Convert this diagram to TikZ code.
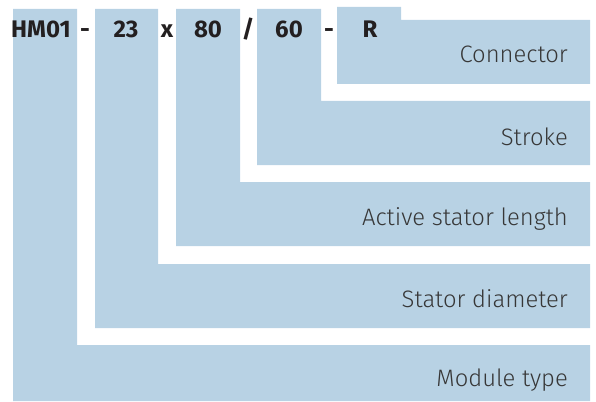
\documentclass[tikz,border=0pt]{standalone}
\usepackage{fontspec}
\IfFontExistsTF{Fira Sans Light}{\setmainfont{Fira Sans Light}[BoldFont={Fira Sans Bold}]}{\setmainfont{Fira Sans}}
\definecolor{bandblue}{RGB}{184,210,228}
\definecolor{labelgray}{RGB}{55,55,55}
\definecolor{codeblack}{RGB}{35,31,32}
\tikzset{
  band/.style={fill=bandblue, draw=none},
  lbl/.style={anchor=base east, inner sep=0pt, text=labelgray, font=\fontsize{23.8}{27}\selectfont},
  code/.style={anchor=base, inner sep=0pt, text=codeblack, font=\fontsize{24}{27}\selectfont\bfseries}
}
\begin{document}
\begin{tikzpicture}[x=1pt,y=-1pt]
\useasboundingbox (0,0) rectangle (596,401);
% L-shaped bands
\path[band] (13,9) -- (77,9) -- (77,345) -- (590,345) -- (590,401) -- (13,401) -- cycle;
\path[band] (95,9) -- (158,9) -- (158,264) -- (590,264) -- (590,328) -- (95,328) -- cycle;
\path[band] (176,9) -- (240,9) -- (240,182) -- (590,182) -- (590,246) -- (176,246) -- cycle;
\path[band] (257,9) -- (321,9) -- (321,101) -- (590,101) -- (590,165) -- (257,165) -- cycle;
\path[band] (337,7) -- (401,7) -- (401,20) -- (590,20) -- (590,84) -- (337,84) -- cycle;
% code characters
\node[code, anchor=base west] (hm) at (11,38) {HM01};
\node[code] (d1) at (85,38) {-};
\node[code] (dia) at (126,38) {23};
\node[code] (x) at (167,38) {x};
\node[code] (len) at (208,38) {80};
\node[code] (sl) at (248,38) {/};
\node[code] (str) at (289,38) {60};
\node[code] (d2) at (329,38) {-};
\node[code] (con) at (370,38) {R};
% labels
\node[lbl] (lcon) at (568,63) {Connector};
\node[lbl] (lstr) at (568,145) {Stroke};
\node[lbl] (llen) at (568,225) {Active stator length};
\node[lbl] (ldia) at (568,307) {Stator diameter};
\node[lbl] (lmod) at (568,386) {Module type};
\end{tikzpicture}
\end{document}
